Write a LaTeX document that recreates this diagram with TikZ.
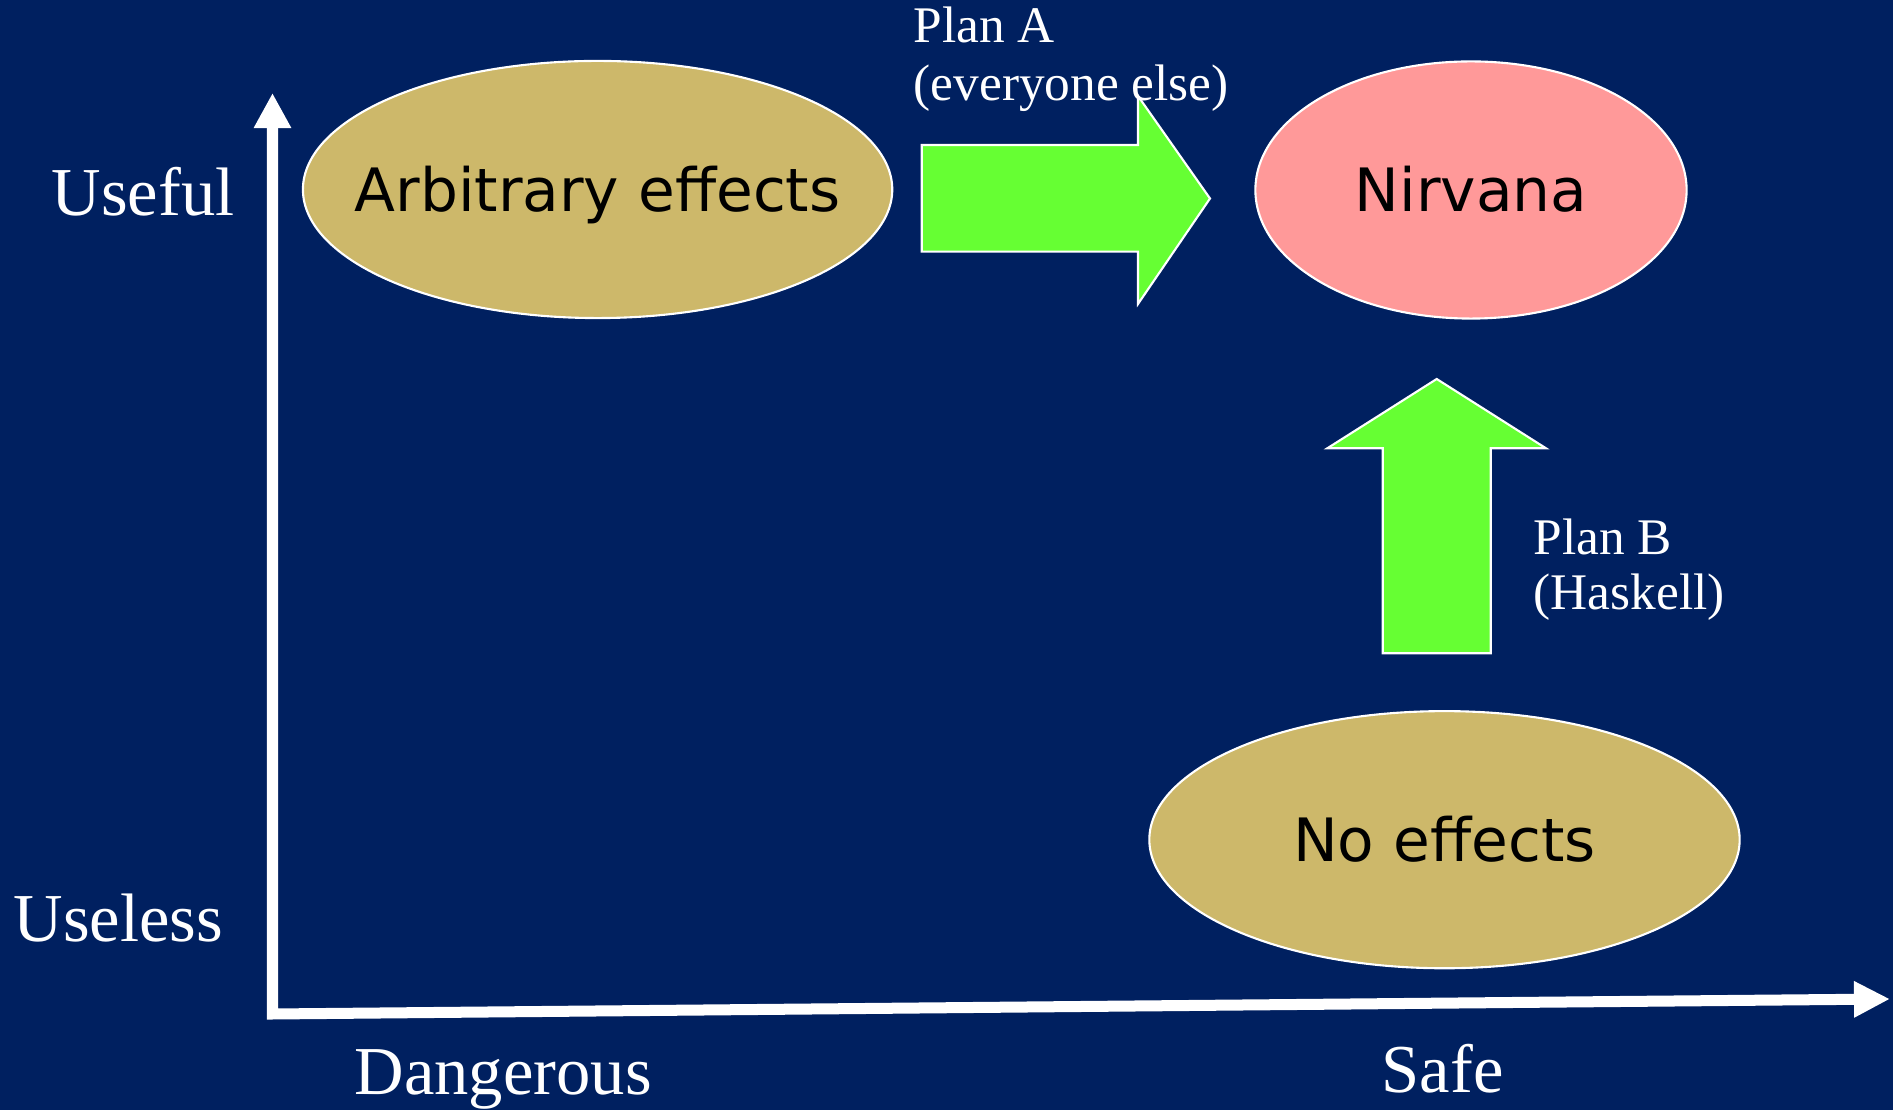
\documentclass[tikz,border=0pt]{standalone}
\usepackage{fontspec}
\setmainfont{Liberation Serif}
\newfontfamily\comicfont{DejaVu Sans}
\usetikzlibrary{arrows.meta,shapes.geometric}
\definecolor{bgnavy}{RGB}{0,32,96}
\definecolor{tan}{RGB}{205,184,106}
\definecolor{pinkish}{RGB}{255,153,153}
\definecolor{limegreen}{RGB}{102,255,51}
\newcommand{\blobtext}[1]{\makebox[0pt][c]{#1}}
\tikzset{
  blob/.style={ellipse, draw=white, line width=0.6pt, inner sep=0pt,
    minimum height=2.57cm, text=black,
    font=\comicfont\fontsize{17}{20}\selectfont, text height=12.4pt, text depth=0pt},
  axislabel/.style={text=white, inner sep=0pt, anchor=base west,
    font=\fontsize{19.5}{23}\selectfont},
  planlabel/.style={text=white, inner sep=0pt, anchor=base west,
    font=\fontsize{14.6}{17}\selectfont},
  blockarrow/.style={fill=limegreen, draw=white, line width=0.6pt, line join=miter},
  axisline/.style={draw=white, line width=0.11cm, line join=miter,
    {Triangle[length=0.35cm,width=0.35cm]}-{Triangle[length=0.36cm,width=0.34cm]}}
}
\begin{document}
\begin{tikzpicture}[x=0.01cm,y=-0.01cm]
\fill[bgnavy] (0,0) rectangle (1893,1110);
\useasboundingbox (0,0) rectangle (1893,1110);

% axes
\coordinate (ytip) at (272.5,93);
\coordinate (origin) at (272.5,1014);
\coordinate (xtip) at (1890,999);
\draw[axisline] (ytip) -- (origin) -- (xtip);

% ellipses
\node[blob, fill=tan, minimum width=5.89cm] (arb) at (597.6,189.5) {\blobtext{Arbitrary effects}};
\node[blob, fill=pinkish, minimum width=4.31cm] (nirv) at (1471,190) {\blobtext{Nirvana}};
\node[blob, fill=tan, minimum width=5.90cm] (noeff) at (1444.5,839.7) {\blobtext{No effects}};

% Plan A block arrow
\draw[blockarrow] (921.7,145) -- (1138,145) -- (1138,96) -- (1210,198.5)
  -- (1138,304) -- (1138,251.7) -- (921.7,251.7) -- cycle;
% Plan B block arrow
\draw[blockarrow] (1382.7,653.3) -- (1382.7,448.3) -- (1327.3,448.3) -- (1436.7,379)
  -- (1546,448.3) -- (1490.7,448.3) -- (1490.7,653.3) -- cycle;

% labels
\node[planlabel] (pa1) at (913,43) {Plan A};
\node[planlabel] (pa2) at (913,101) {(everyone else)};
\node[planlabel] (pb1) at (1533,555) {Plan B};
\node[planlabel] (pb2) at (1533,610) {(Haskell)};

\node[axislabel] (useful) at (51,216) {Useful};
\node[axislabel] (useless) at (13,941.7) {Useless};
\node[axislabel] (danger) at (354,1094) {Dangerous};
\node[axislabel] (safe) at (1381,1093) {Safe};
\end{tikzpicture}
\end{document}
